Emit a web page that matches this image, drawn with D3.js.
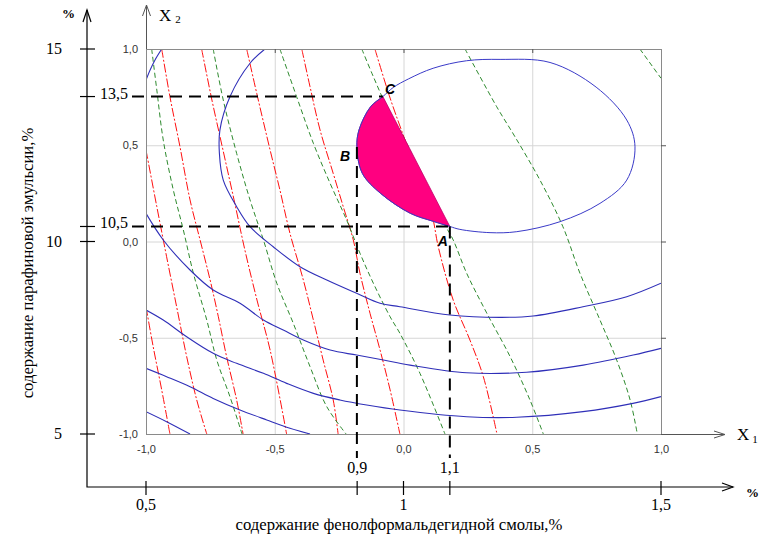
<!DOCTYPE html>
<html>
<head>
<meta charset="utf-8">
<script src="https://cdn.jsdelivr.net/npm/d3@7"></script>
<style>
  body { margin: 0; background: #fff; }
  svg { display: block; }
</style>
</head>
<body>
<div id="chart"></div>
<script>
// Define constants
const WIDTH = 766;
const HEIGHT = 539;
const PLOT = { left: 146, right: 661, top: 49, bottom: 434 };
const OUTER = { left: 87, bottom: 487 };
const SERIF = "'Liberation Serif', 'Times New Roman', serif";
const SANS = "'Liberation Sans', Arial, sans-serif";

// Coded factor ticks
const X1_TICKS = [-1, -0.5, 0, 0.5, 1];
const X2_TICKS = [-1, -0.5, 0, 0.5, 1];

// Natural units (%) and the coded value each label sits at
const PCT_Y_LABELS = ["15", "10", "5"];
const PCT_Y_AT = [1, 0, -1];
const PCT_Y_MARK_LABELS = ["13,5", "10,5"];
const PCT_Y_MARK_AT = [0.753, 0.078];
const PCT_X_LABELS = ["0,5", "1", "1,5"];
const PCT_X_AT = [-1, 0, 1];
const PCT_X_MARK_LABELS = ["0,9", "1,1"];
const PCT_X_MARK_AT = [-0.18, 0.18];

// Corner points of the optimum region
const POINT_NAMES = ["A", "B", "C"];
const POINT_X1 = [0.18, -0.181, -0.08];
const POINT_X2 = [0.078, 0.491, 0.753];

// Blue contours (X1, X2)
const blueCorner = [[-1.0, 0.839], [-0.984, 0.891], [-0.965, 0.943], [-0.939, 1.0]];
const blueArc = [[-0.538, 1.0], [-0.596, 0.926], [-0.674, 0.752], [-0.713, 0.579], [-0.715, 0.458],
  [-0.700, 0.319], [-0.648, 0.181], [-0.596, 0.077], [-0.506, -0.027], [-0.402, -0.131],
  [-0.298, -0.200], [-0.182, -0.269], [-0.091, -0.321], [-0.014, -0.339], [0.181, -0.382],
  [0.375, -0.394], [0.503, -0.387], [0.697, -0.339], [0.867, -0.287], [1.0, -0.217]];
const blueLow1 = [[-1.0, 0.146], [-0.933, 0.008], [-0.829, -0.148], [-0.739, -0.252], [-0.635, -0.321],
  [-0.544, -0.408], [-0.467, -0.460], [-0.389, -0.512], [-0.285, -0.564], [-0.182, -0.590],
  [-0.078, -0.616], [0.025, -0.642], [0.245, -0.682], [0.478, -0.679], [0.698, -0.642],
  [0.892, -0.590], [1.0, -0.555]];
const blueLow2 = [[-1.0, -0.356], [-0.933, -0.408], [-0.842, -0.495], [-0.739, -0.581], [-0.648, -0.633],
  [-0.544, -0.685], [-0.454, -0.737], [-0.350, -0.789], [-0.247, -0.823], [-0.143, -0.849],
  [-0.014, -0.875], [0.245, -0.910], [0.440, -0.913], [0.697, -0.884], [0.891, -0.841], [1.0, -0.806]];
const blueLow3 = [[-1.0, -0.659], [-0.920, -0.702], [-0.829, -0.754], [-0.739, -0.815], [-0.635, -0.875],
  [-0.531, -0.927], [-0.441, -0.970], [-0.363, -1.0]];
const blueLow4 = [[-1.0, -0.884], [-0.920, -0.936], [-0.829, -1.0]];
const blueEllipse = [[-0.08, 0.753], [-0.040, 0.800], [0.020, 0.845], [0.115, 0.900], [0.245, 0.939],
  [0.375, 0.946], [0.569, 0.930], [0.748, 0.802], [0.867, 0.631], [0.899, 0.492], [0.867, 0.319],
  [0.763, 0.198], [0.608, 0.103], [0.440, 0.051], [0.336, 0.046], [0.219, 0.063], [0.18, 0.078],
  [0.115, 0.105], [0.027, 0.146], [-0.089, 0.250], [-0.160, 0.354], [-0.181, 0.491],
  [-0.173, 0.579], [-0.128, 0.700]];

// Optimum region A-B-C
const optimumRegion = [[0.18, 0.078], [0.115, 0.105], [0.027, 0.146], [-0.089, 0.250], [-0.160, 0.354],
  [-0.181, 0.491], [-0.173, 0.579], [-0.128, 0.700], [-0.08, 0.753]];

// Red dash-dot lines
const redLine1 = [[-1.0, -0.339], [-0.972, -0.547], [-0.939, -0.771], [-0.907, -1.0]];
const redLine2 = [[-1.0, 0.475], [-0.958, 0.181], [-0.920, -0.079], [-0.881, -0.339], [-0.842, -0.598],
  [-0.803, -0.823], [-0.764, -1.0]];
const redLine3 = [[-0.939, 1.0], [-0.907, 0.752], [-0.868, 0.492], [-0.829, 0.216], [-0.790, 0.008],
  [-0.751, -0.200], [-0.719, -0.391], [-0.687, -0.598], [-0.648, -0.823], [-0.623, -1.0]];
const redLine4 = [[-0.784, 1.0], [-0.744, 0.735], [-0.701, 0.475], [-0.658, 0.216], [-0.616, -0.044],
  [-0.569, -0.304], [-0.518, -0.564], [-0.454, -1.0]];
const redLine5 = [[-0.609, 1.0], [-0.570, 0.770], [-0.518, 0.475], [-0.480, 0.268], [-0.441, 0.043],
  [-0.389, -0.200], [-0.350, -0.408], [-0.312, -0.616], [-0.273, -0.823], [-0.254, -1.0]];
const redLine6 = [[-0.395, 1.0], [-0.363, 0.804], [-0.324, 0.579], [-0.273, 0.354], [-0.234, 0.181],
  [-0.195, 0.008], [-0.169, -0.165], [-0.130, -0.373], [-0.091, -0.564], [-0.052, -0.771], [-0.014, -1.0]];
const redLine7 = [[-0.111, 1.0], [-0.052, 0.745], [0.006, 0.527], [0.064, 0.319], [0.111, 0.138],
  [0.135, -0.027], [0.193, -0.304], [0.258, -0.512], [0.310, -0.702], [0.363, -1.0]];

// Green dashed lines
const greenLine1 = [[-0.978, 1.0], [-0.958, 0.787], [-0.933, 0.527], [-0.894, 0.268], [-0.855, 0.060],
  [-0.816, -0.165], [-0.764, -0.408], [-0.725, -0.616], [-0.674, -0.806], [-0.627, -1.0]];
const greenLine2 = [[-0.739, 1.0], [-0.700, 0.735], [-0.648, 0.458], [-0.596, 0.216], [-0.544, 0.008],
  [-0.492, -0.217], [-0.428, -0.425], [-0.363, -0.650], [-0.298, -0.858], [-0.223, -1.0]];
const greenLine3 = [[-0.480, 1.0], [-0.415, 0.752], [-0.350, 0.510], [-0.285, 0.302], [-0.221, 0.112],
  [-0.169, -0.061], [-0.117, -0.217], [-0.052, -0.391], [-0.014, -0.477], [0.064, -0.685], [0.161, -1.0]];
const greenLine4 = [[-0.162, 1.0], [-0.117, 0.856], [-0.065, 0.700], [0.006, 0.527], [0.095, 0.268],
  [0.161, 0.086], [0.193, 0.008], [0.245, -0.164], [0.323, -0.371], [0.414, -0.598], [0.491, -0.823], [0.543, -1.0]];
const greenLine5 = [[0.239, 1.0], [0.362, 0.700], [0.433, 0.544], [0.530, 0.319], [0.619, 0.077],
  [0.685, -0.164], [0.763, -0.408], [0.828, -0.616], [0.880, -0.823], [0.908, -1.0]];
const greenLine6 = [[0.918, 1.0], [1.0, 0.848]];

const BLUE_LINES = [blueCorner, blueArc, blueLow1, blueLow2, blueLow3, blueLow4];
const RED_LINES = [redLine1, redLine2, redLine3, redLine4, redLine5, redLine6, redLine7];
const GREEN_LINES = [greenLine1, greenLine2, greenLine3, greenLine4, greenLine5, greenLine6];

// Scales
const x = d3.scaleLinear().domain([-1, 1]).range([PLOT.left, PLOT.right]);
const y = d3.scaleLinear().domain([-1, 1]).range([PLOT.bottom, PLOT.top]);
const smooth = d3.line().x(d => x(d[0])).y(d => y(d[1])).curve(d3.curveCatmullRom);
const smoothClosed = d3.line().x(d => x(d[0])).y(d => y(d[1])).curve(d3.curveCatmullRomClosed);
const fmt = d3.formatLocale({ decimal: ",", thousands: " ", grouping: [3], currency: ["", ""], minus: "-" }).format(".1f");

const svg = d3.select("#chart")
  .append("svg")
  .attr("width", WIDTH)
  .attr("height", HEIGHT)
  .style("background", "#fff");

svg.append("defs").append("clipPath").attr("id", "plot-clip")
  .append("rect")
  .attr("x", PLOT.left).attr("y", PLOT.top)
  .attr("width", PLOT.right - PLOT.left).attr("height", PLOT.bottom - PLOT.top);

// Grid
const grid = svg.append("g").attr("stroke", "#d6d6d6").attr("stroke-width", 1);
grid.selectAll(".gx").data(X1_TICKS.slice(1, -1)).enter().append("line")
  .attr("x1", d => x(d) + 0.5).attr("x2", d => x(d) + 0.5)
  .attr("y1", y(1)).attr("y2", y(-1));
grid.selectAll(".gy").data(X2_TICKS.slice(1, -1)).enter().append("line")
  .attr("x1", x(-1)).attr("x2", x(1))
  .attr("y1", d => y(d) + 0.5).attr("y2", d => y(d) + 0.5);

// Contour lines
const curves = svg.append("g").attr("clip-path", "url(#plot-clip)").attr("fill", "none");
curves.selectAll(".red").data(RED_LINES).enter().append("path")
  .attr("d", smooth).attr("stroke", "#ff1010").attr("stroke-width", 1)
  .attr("stroke-dasharray", "9,2,2,2");
curves.selectAll(".green").data(GREEN_LINES).enter().append("path")
  .attr("d", smooth).attr("stroke", "#2e8a2e").attr("stroke-width", 1)
  .attr("stroke-dasharray", "5,3");
curves.selectAll(".blue").data(BLUE_LINES).enter().append("path")
  .attr("d", smooth).attr("stroke", "#2f2fb8").attr("stroke-width", 1.1);

// Optimum region and ellipse
svg.append("path")
  .attr("d", smooth(optimumRegion) + "Z")
  .attr("fill", "#ff0080")
  .attr("stroke", "#c0006a")
  .attr("stroke-width", 0.8);
svg.append("path")
  .attr("d", smoothClosed(blueEllipse))
  .attr("fill", "none").attr("stroke", "#3a3ac8").attr("stroke-width", 1);

// Plot frame
svg.append("rect")
  .attr("x", PLOT.left + 0.5).attr("y", PLOT.top + 0.5)
  .attr("width", PLOT.right - PLOT.left).attr("height", PLOT.bottom - PLOT.top)
  .attr("fill", "none").attr("stroke", "#8a8a8a");

// Small frame ticks
svg.selectAll(".rt").data(X2_TICKS.slice(1, -1)).enter().append("line")
  .attr("x1", x(1)).attr("x2", x(1) + 5)
  .attr("y1", d => y(d) + 0.5).attr("y2", d => y(d) + 0.5).attr("stroke", "#555");
svg.selectAll(".tt").data(X1_TICKS.slice(1, -1)).enter().append("line")
  .attr("x1", d => x(d) + 0.5).attr("x2", d => x(d) + 0.5)
  .attr("y1", y(1)).attr("y2", y(1) + 4).attr("stroke", "#555");

// Coded axes with arrows
const axisPen = svg.append("g").attr("stroke", "#555").attr("fill", "none").attr("stroke-width", 1);
axisPen.append("path").attr("d", `M${x(-1) + 0.5},${y(1)}V5M${x(-1) - 3.5},16L${x(-1) + 0.5},5L${x(-1) + 4.5},16`);
axisPen.append("path").attr("d", `M${x(1)},${y(-1) + 0.5}H725M714,${y(-1) - 3}L725,${y(-1) + 0.5}L714,${y(-1) + 4}`);

const codedAxisY = svg.append("g")
  .attr("transform", `translate(${x(-1)},0)`)
  .call(d3.axisLeft(y).tickValues(X2_TICKS).tickSize(0).tickPadding(8).tickFormat(fmt));
const codedAxisX = svg.append("g")
  .attr("transform", `translate(0,${y(-1)})`)
  .call(d3.axisBottom(x).tickValues(X1_TICKS).tickSize(0).tickPadding(11).tickFormat(fmt));
[codedAxisY, codedAxisX].forEach(g => {
  g.select(".domain").remove();
  g.selectAll("text").attr("fill", "#333").style("font-family", SANS).style("font-size", "11px");
});

svg.append("text").attr("x", 159).attr("y", 21).style("font-family", SERIF).style("font-size", "17px")
  .text("X").append("tspan").attr("dx", 4).attr("dy", 2).style("font-size", "11px").text("2");
svg.append("text").attr("x", 737).attr("y", 440).style("font-family", SERIF).style("font-size", "17px")
  .text("X").append("tspan").attr("dx", 3).attr("dy", 3).style("font-size", "11px").text("1");

// Outer (%) axes
const pen = svg.append("g").attr("stroke", "#000").attr("fill", "none").attr("stroke-width", 1.2);
pen.append("path").attr("d", `M${OUTER.left},10V${OUTER.bottom}H733`);
pen.append("path").attr("d", `M${OUTER.left - 4},22L${OUTER.left},10L${OUTER.left + 4},22`);
pen.append("path").attr("d", `M722,${OUTER.bottom - 4}L733,${OUTER.bottom}L722,${OUTER.bottom + 4}`);

pen.selectAll(".ytick").data(PCT_Y_AT.concat(PCT_Y_MARK_AT)).enter().append("line")
  .attr("x1", OUTER.left - 7).attr("x2", OUTER.left + 8)
  .attr("y1", d => y(d)).attr("y2", d => y(d));
pen.selectAll(".xtick").data(PCT_X_AT.concat(PCT_X_MARK_AT)).enter().append("line")
  .attr("x1", d => x(d)).attr("x2", d => x(d))
  .attr("y1", OUTER.bottom - 6).attr("y2", OUTER.bottom + 8);

const serifText = svg.append("g").style("font-family", SERIF).style("font-size", "16px").attr("fill", "#000");
serifText.selectAll(".yl").data(PCT_Y_LABELS).enter().append("text")
  .attr("x", 62).attr("y", (d, i) => y(PCT_Y_AT[i]) + 5).attr("text-anchor", "end").text(d => d);
serifText.selectAll(".ym").data(PCT_Y_MARK_LABELS).enter().append("text")
  .attr("x", 100).attr("y", (d, i) => y(PCT_Y_MARK_AT[i]) + 2).text(d => d);
serifText.selectAll(".xl").data(PCT_X_LABELS).enter().append("text")
  .attr("x", (d, i) => x(PCT_X_AT[i])).attr("y", 510).attr("text-anchor", "middle").text(d => d);
serifText.selectAll(".xm").data(PCT_X_MARK_LABELS).enter().append("text")
  .attr("x", (d, i) => x(PCT_X_MARK_AT[i])).attr("y", 473).attr("text-anchor", "middle").text(d => d);
serifText.append("text").attr("x", 62).attr("y", 18).style("font-weight", "bold").style("font-size", "13px").text("%");
serifText.append("text").attr("x", 746).attr("y", 497).style("font-weight", "bold").style("font-size", "13px").text("%");

// Axis titles
serifText.append("text")
  .attr("x", 399).attr("y", 530).attr("text-anchor", "middle").style("font-size", "16.7px")
  .text("содержание фенолформальдегидной смолы,%");
serifText.append("text")
  .attr("transform", "translate(33,263) rotate(-90)")
  .attr("text-anchor", "middle").style("font-size", "16.7px")
  .text("содержание парафиновой эмульсии,%");

// Dashed guide lines through A, B, C
const guides = svg.append("g").attr("stroke", "#000").attr("stroke-width", 2).attr("stroke-dasharray", "12,7").attr("fill", "none");
guides.append("line").attr("x1", 132).attr("x2", x(POINT_X1[2])).attr("y1", y(POINT_X2[2])).attr("y2", y(POINT_X2[2]));
guides.append("line").attr("x1", 132).attr("x2", x(POINT_X1[0])).attr("y1", y(POINT_X2[0])).attr("y2", y(POINT_X2[0]));
guides.append("line").attr("x1", x(POINT_X1[1])).attr("x2", x(POINT_X1[1])).attr("y1", y(POINT_X2[1])).attr("y2", 458);
guides.append("line").attr("x1", x(POINT_X1[0])).attr("x2", x(POINT_X1[0])).attr("y1", y(POINT_X2[0])).attr("y2", 458);

// Point letters
const LETTER_OFFSETS = [[-12, 20], [-17, 14], [2, -3]];
svg.selectAll(".pt").data(POINT_NAMES).enter().append("text")
  .attr("x", (d, i) => x(POINT_X1[i]) + LETTER_OFFSETS[i][0])
  .attr("y", (d, i) => y(POINT_X2[i]) + LETTER_OFFSETS[i][1])
  .style("font-family", SANS).style("font-size", "14px")
  .style("font-weight", "bold").style("font-style", "italic")
  .text(d => d);
</script>
</body>
</html>
